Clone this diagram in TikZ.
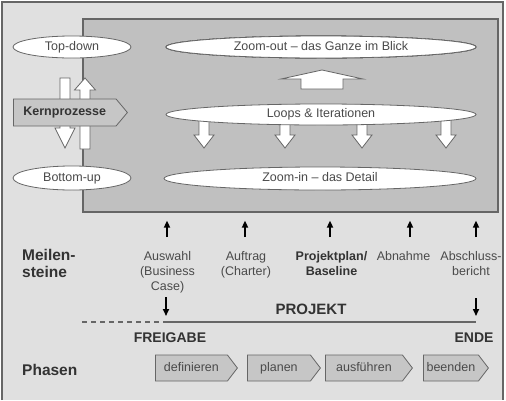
\documentclass[tikz,border=0pt]{standalone}
\usepackage{fontspec}
\setmainfont{Liberation Sans}
\usetikzlibrary{arrows.meta,shapes.geometric,shapes.symbols,positioning}
\definecolor{outergray}{HTML}{E0E0E0}
\definecolor{innergray}{HTML}{C0C0C0}
\definecolor{framegray}{HTML}{666666}
\definecolor{txtgray}{HTML}{4A4A4A}
\definecolor{boldgray}{HTML}{333333}
\definecolor{signalgray}{HTML}{C6C6C6}
% white block arrow: x, y of tail, y of tip, half shaft, half head, signed head length
\newcommand{\blkarrow}[6]{%
\filldraw[blkarr] (#1-#4,#2) -- (#1-#4,#3-#6) -- (#1-#5,#3-#6) -- (#1,#3)
 -- (#1+#5,#3-#6) -- (#1+#4,#3-#6) -- (#1+#4,#2) -- cycle;}

\begin{document}
\begin{tikzpicture}[x=1pt,y=-1pt,
 oval/.style={ellipse,draw=framegray,fill=white,line width=0.8pt,inner sep=0pt,text=txtgray,text height=9pt,text depth=2.5pt,font=\fontsize{12.5}{15}\selectfont},
 blkarr/.style={draw=framegray,fill=white,line width=0.8pt,line join=miter},
 phase/.style={signal,signal to=east,signal pointer angle=105,draw=framegray,fill=signalgray,line width=0.8pt,inner sep=0pt,minimum height=26pt,anchor=west,text=txtgray,text height=9pt,text depth=2.5pt,font=\fontsize{12.5}{15}\selectfont},
 mstone/.style={align=center,inner sep=0pt,anchor=north,text=txtgray,font=\fontsize{12.5}{15}\selectfont},
 bigbold/.style={inner sep=0pt,text=boldgray,font=\fontsize{15.5}{17}\selectfont\bfseries},
 msarrow/.style={-{Triangle[length=7pt,width=6pt]},line width=1.6pt,black}]
\useasboundingbox (0,0) rectangle (506,400);
\fill[outergray] (2,2) rectangle (503,400);
\draw[framegray,line width=1.2pt] (2,400) -- (2,2) -- (503,2) -- (503,400);
\node[draw=framegray,fill=innergray,line width=1.6pt,anchor=north west,inner sep=0pt,minimum width=415pt,minimum height=193pt] (core) at (82,18) {};

% left side: Top-down / Bottom-up
\blkarrow{65}{78}{148}{5}{10}{20}
\blkarrow{85}{149}{78}{5}{10.5}{-12}
\node[phase,signal pointer angle=100,minimum width=114pt,minimum height=27pt,text=boldgray,font=\fontsize{12.5}{15}\selectfont\bfseries] (kern) at (13,112.5) {Kernprozesse};
\node[oval,minimum width=118pt,minimum height=22pt] (topdown) at (72,47) {Top-down};
\node[oval,minimum width=118pt,minimum height=24pt] (bottomup) at (72,178) {Bottom-up};

% zoom levels
\blkarrow{322}{89}{70}{21}{41}{-9}
\foreach \x in {204,285,362,446}
  \blkarrow{\x}{120}{148}{5}{10}{13}
\node[oval,minimum width=310pt,minimum height=22pt] (zoomout) at (321,47) {Zoom-out -- das Ganze im Blick};
\node[oval,minimum width=310pt,minimum height=21pt] (loops) at (321,114.5) {Loops \& Iterationen};
\node[oval,minimum width=312pt,minimum height=23pt] (zoomin) at (320,178.5) {Zoom-in -- das Detail};

% milestones
\node[bigbold,anchor=north west,align=left] (meilen) at (22,249) {Meilen-\\steine};
\node[mstone] (auswahl) at (167.5,251) {Auswahl\\(Business\\Case)};
\node[mstone] (auftrag) at (246,251) {Auftrag\\(Charter)};
\node[mstone,text=boldgray,font=\fontsize{12.5}{15}\selectfont\bfseries] (plan) at (331.5,251) {Projektplan/\\Baseline};
\node[mstone] (abnahme) at (403.5,251) {Abnahme};
\node[mstone] (bericht) at (471,251) {Abschluss-\\bericht};
\foreach \x [count=\i] in {167,245,330,410,476}{
  \coordinate (up\i) at (\x,237);
  \draw[msarrow,shorten >=8pt] (up\i) -- (up\i |- core.south);
}

% project line
\coordinate (lstart) at (82,322);
\coordinate (lsplit) at (166,322);
\coordinate (lend) at (476,322);
\coordinate (dn1) at (166,297);
\coordinate (dn2) at (476,298);
\draw[framegray,line width=1.4pt,dash pattern=on 5pt off 4pt] (lstart) -- (lsplit);
\draw[framegray,line width=1.4pt] (lsplit) -- (lend);
\path[msarrow,shorten >=6pt]
(dn1) edge (lsplit)
(dn2) edge (lend);
\node[bigbold,font=\fontsize{15}{17}\selectfont\bfseries] (projekt) at (311,309) {PROJEKT};
\node[bigbold,font=\fontsize{14}{17}\selectfont\bfseries] (freigabe) at (170,338) {FREIGABE};
\node[bigbold,font=\fontsize{14}{17}\selectfont\bfseries] (ende) at (474,338) {ENDE};

% phases
\node[bigbold,anchor=west] (phasen) at (22,370) {Phasen};
\node[phase,minimum width=82pt] (definieren) at (155,368) {definieren};
\node[phase,minimum width=73pt] (planen) at (247,368) {planen};
\node[phase,minimum width=87pt] (ausfuehren) at (325,368) {ausführen};
\node[phase,minimum width=65pt] (beenden) at (423,368) {beenden};
\end{tikzpicture}
\end{document}
